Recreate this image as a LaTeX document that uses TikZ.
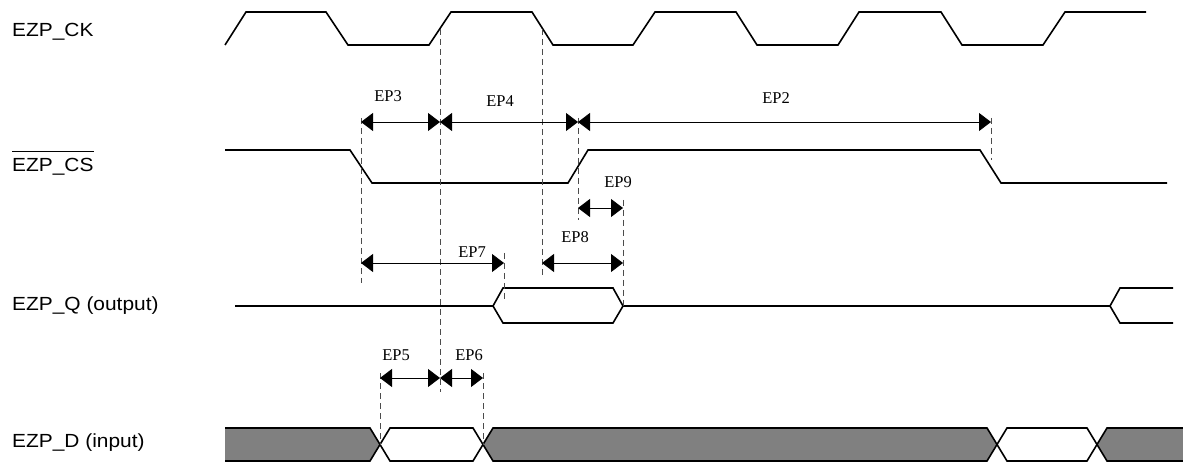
\documentclass[tikz,border=0pt]{standalone}
\usepackage{fontspec}
\setmainfont{Liberation Serif}
\newfontfamily\sigfont[FakeStretch=1.1]{Liberation Sans}
\usetikzlibrary{arrows.meta}

\begin{document}
\begin{tikzpicture}[
        x=1pt, y=-1pt,
        wave/.style={line width=1.6pt, draw=black},
        busfill/.style={fill=gray},
        signame/.style={anchor=base west, inner sep=0pt, font=\sigfont\fontsize{19}{19}\selectfont},
        eplabel/.style={inner sep=0pt, font=\fontsize{16.5}{16.5}\selectfont},
        dim/.style={{Triangle[length=12pt,width=18pt]}-{Triangle[length=12pt,width=18pt]}, line width=0.9pt},
        guide/.style={dash pattern=on 6pt off 4pt, line width=0.9pt, draw=black!70}
    ]
        \useasboundingbox (0,0) rectangle (1183,462);

        % Signal names (left)
        \node[signame] (nck) at (12,37) {EZP\_CK};
        \node[signame] (ncs) at (12,172) {EZP\_CS};
        \draw[line width=1.2pt] ([yshift=7pt]ncs.north west) -- ([yshift=7pt]ncs.north east);
        \node[signame] (nq) at (12,311) {EZP\_Q (output)};
        \node[signame] (nd) at (12,447) {EZP\_D (input)};

        % Time markers
        \coordinate (csfall) at (361,0);
        \coordinate (ckrise) at (440,0);
        \coordinate (ckfall) at (542,0);
        \coordinate (csrise) at (578,0);
        \coordinate (qend) at (623,0);
        \coordinate (qvalid) at (504,0);
        \coordinate (csoff) at (991,0);
        \coordinate (dsetup) at (380,0);
        \coordinate (dhold) at (483,0);

        % Rows of the dimension arrows
        \coordinate (rowa) at (0,122);
        \coordinate (rowb) at (0,208);
        \coordinate (rowc) at (0,263);
        \coordinate (rowd) at (0,378);

        % Clock
        \draw[wave] (225,45) -- (246,12) -- (326,12) -- (348,45) -- (429,45) -- (451,12) -- (532,12) -- (553,45)
            -- (633,45) -- (655,12) -- (736,12) -- (757,45) -- (838,45) -- (859,12) -- (941,12) -- (962,45)
            -- (1043,45) -- (1065,12) -- (1146,12);

        % Chip select
        \draw[wave] (225,150) -- (350,150) -- (372,183) -- (568,183) -- (588,150) -- (980,150) -- (1001,183) -- (1167,183);

        % Output
        \draw[wave] (235,306) -- (493,306) -- (503,288) -- (613,288) -- (623,306) -- (1110,306) -- (1120,288) -- (1173,288);
        \draw[wave] (493,306) -- (503,323) -- (613,323) -- (623,306);
        \draw[wave] (1110,306) -- (1120,323) -- (1173,323);

        % Input bus
        \fill[busfill] (225,428) -- (370,428) -- (380,444.5) -- (370,461) -- (225,461) -- cycle;
        \fill[busfill] (493,428) -- (987,428) -- (997,444.5) -- (987,461) -- (493,461) -- (483,444.5) -- cycle;
        \fill[busfill] (1107,428) -- (1183,428) -- (1183,461) -- (1107,461) -- (1097,444.5) -- cycle;
        \draw[wave] (225,428) -- (370,428) -- (390,461) -- (473,461) -- (493,428) -- (987,428) -- (1007,461) -- (1087,461) -- (1107,428) -- (1183,428);
        \draw[wave] (225,461) -- (370,461) -- (390,428) -- (473,428) -- (493,461) -- (987,461) -- (1007,428) -- (1087,428) -- (1107,461) -- (1183,461);

        % Guide lines
        \draw[guide] (csfall |- 0,118) -- (csfall |- 0,283);
        \draw[guide] (ckrise |- 0,29) -- (ckrise |- 0,392);
        \draw[guide] (ckfall |- 0,29) -- (ckfall |- 0,277);
        \draw[guide] (csrise |- 0,118) -- (csrise |- 0,220);
        \draw[guide] (qend |- 0,200) -- (qend |- 0,306);
        \draw[guide] (qvalid |- 0,253) -- (qvalid |- 0,300);
        \draw[guide] (csoff |- 0,118) -- (csoff |- 0,160);
        \draw[guide] (dsetup |- 0,373) -- (dsetup |- 0,445);
        \draw[guide] (dhold |- 0,373) -- (dhold |- 0,445);

        % Timing parameters
        \draw[dim] (csfall |- rowa) -- (ckrise |- rowa);
        \draw[dim] (ckrise |- rowa) -- (csrise |- rowa);
        \draw[dim] (csrise |- rowa) -- (csoff |- rowa);
        \draw[dim] (csrise |- rowb) -- (qend |- rowb);
        \draw[dim] (csfall |- rowc) -- (qvalid |- rowc);
        \draw[dim] (ckfall |- rowc) -- (qend |- rowc);
        \draw[dim] (dsetup |- rowd) -- (ckrise |- rowd);
        \draw[dim] (ckrise |- rowd) -- (dhold |- rowd);

        \node[eplabel] (ep3) at (388,96) {EP3};
        \node[eplabel] (ep4) at (500,101) {EP4};
        \node[eplabel] (ep2) at (776,98) {EP2};
        \node[eplabel] (ep9) at (618,182) {EP9};
        \node[eplabel] (ep8) at (575,237) {EP8};
        \node[eplabel] (ep7) at (472,252) {EP7};
        \node[eplabel] (ep5) at (396,355) {EP5};
        \node[eplabel] (ep6) at (469,355) {EP6};

    \end{tikzpicture}
\end{document}
